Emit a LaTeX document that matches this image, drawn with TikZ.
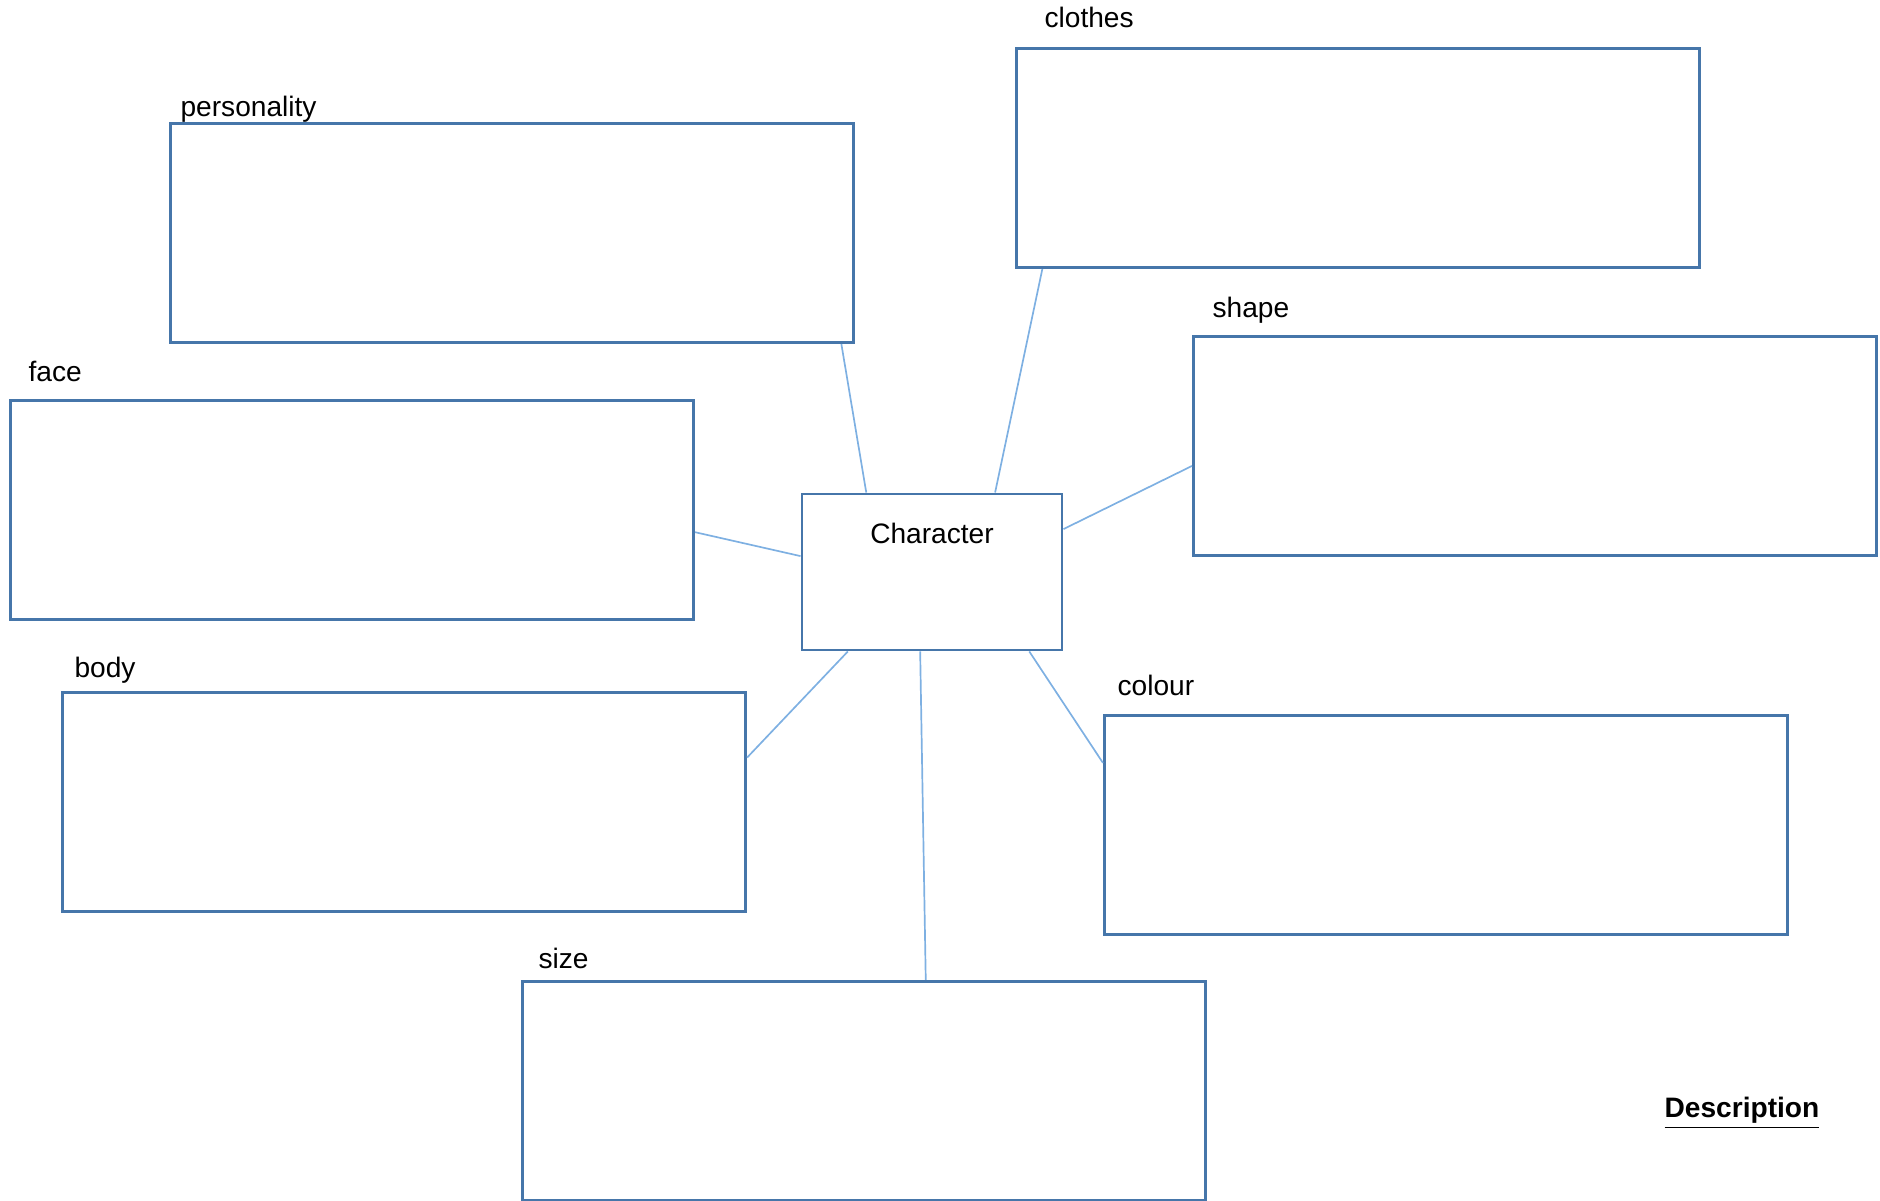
\documentclass[tikz,border=0pt]{standalone}
\usepackage{fontspec}
\setmainfont{Liberation Sans}
\usetikzlibrary{calc}
\definecolor{boxblue}{HTML}{4676AA}
\definecolor{linkblue}{HTML}{7EB0E2}
\begin{document}
\begin{tikzpicture}[x=0.0125cm, y=-0.0125cm]
    \tikzstyle{box} = [rectangle, minimum width = 8.54cm, minimum height = 2.74cm, inner sep = 0pt, draw = boxblue, line width = 1pt]
    \tikzstyle{link} = [draw = linkblue, line width = 0.6pt, -]
    \tikzstyle{lbl} = [anchor = base west, inner sep = 0pt, font = \normalsize]
    \useasboundingbox (0,0) rectangle (1880,1201);

    \node[box](P) at (512,233){};
    \node[box](Cl) at (1358,158){};
    \node[box](F) at (352,510){};
    \node[box](S) at (1535,446){};
    \node[box](B) at (404,802){};
    \node[box](Co) at (1446,825){};
    \node[box](Sz) at (864,1091){};
    \node[box, minimum width = 3.25cm, minimum height = 1.95cm](C) at (932,572){};

    \node[lbl](p) at (180,117){personality};
    \node[lbl](cl) at (1044,28){clothes};
    \node[lbl](f) at (28,382){face};
    \node[lbl](s) at (1212,318){shape};
    \node[lbl](b) at (74,678){body};
    \node[lbl](co) at (1117,696){colour};
    \node[lbl](sz) at (538,969){size};
    \node[anchor = base, inner sep = 0pt](c) at (932,544){Character};
    \node[anchor = base, inner sep = 0pt](D) at (1742,1118){\textbf{\underline{Description}}};

    \draw[link] ($(P.south west)!0.98!(P.south east)$) -- ($(C.north west)!0.25!(C.north east)$);
    \draw[link] ($(Cl.south west)!0.04!(Cl.south east)$) -- ($(C.north west)!0.74!(C.north east)$);
    \draw[link] ($(F.north east)!0.6!(F.south east)$) -- ($(C.north west)!0.4!(C.south west)$);
    \draw[link] ($(S.north west)!0.59!(S.south west)$) -- ($(C.north east)!0.23!(C.south east)$);
    \draw[link] ($(B.north east)!0.3!(B.south east)$) -- ($(C.south west)!0.18!(C.south east)$);
    \draw[link] ($(Sz.north west)!0.59!(Sz.north east)$) -- ($(C.south west)!0.455!(C.south east)$);
    \draw[link] ($(Co.north west)!0.22!(Co.south west)$) -- ($(C.south west)!0.87!(C.south east)$);

\end{tikzpicture}
\end{document}
